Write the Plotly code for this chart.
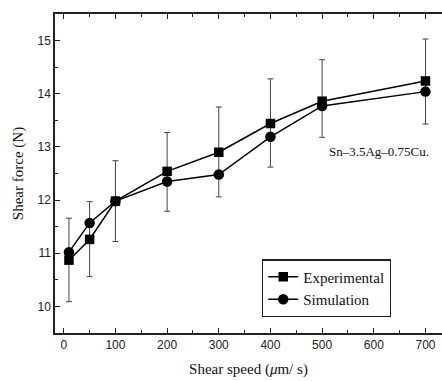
import plotly.graph_objects as go

# Shear speed (um/s)
speed = [10, 50, 100, 200, 300, 400, 500, 700]
# Shear force (N)
experimental = [10.87, 11.26, 11.98, 12.54, 12.90, 13.44, 13.86, 14.24]
simulation = [11.02, 11.57, 11.98, 12.35, 12.48, 13.19, 13.77, 14.04]
err_plus = [0.79, 0.71, 0.76, 0.73, 0.85, 0.84, 0.78, 0.79]
err_minus = [0.78, 0.70, 0.76, 0.75, 0.84, 0.82, 0.68, 0.81]

x_ticks = [0, 100, 200, 300, 400, 500, 600, 700]
y_ticks = [10, 11, 12, 13, 14, 15]

serif = "Liberation Serif"
sans = "Liberation Sans"

fig = go.Figure()

fig.add_trace(go.Scatter(
    x=speed, y=experimental, mode="lines+markers", name="Experimental",
    line=dict(color="black", width=1.5),
    marker=dict(symbol="square", size=9.5, color="black"),
    error_y=dict(type="data", symmetric=False, array=err_plus, arrayminus=err_minus,
                 color="#444444", thickness=1, width=3),
))
fig.add_trace(go.Scatter(
    x=speed, y=simulation, mode="lines+markers", name="Simulation",
    line=dict(color="black", width=1.5),
    marker=dict(symbol="circle", size=10.5, color="black"),
))

axis_common = dict(
    showgrid=False, zeroline=False, showline=True, linecolor="#222", linewidth=1.5,
    ticks="inside", ticklen=5, tickwidth=1.3, tickcolor="#222",
)

fig.update_layout(
    width=442, height=381,
    margin=dict(l=55, r=0, t=14, b=48),
    paper_bgcolor="white", plot_bgcolor="white",
    showlegend=True,
    legend=dict(
        x=0.535, y=0.14, xanchor="left", yanchor="middle",
        bordercolor="#222", borderwidth=1.2, bgcolor="white",
        font=dict(family=serif, size=15, color="#111"),
        tracegroupgap=0,
    ),
    xaxis=dict(
        **axis_common, mirror="ticks", range=[-17, 732], tickvals=x_ticks,
        minor=dict(ticks="inside", ticklen=3, dtick=50, tick0=0, tickcolor="#222"),
        tickfont=dict(family=sans, size=12, color="#222"),
        title=dict(text="Shear speed (<i>μ</i>m/ s)", standoff=12,
                   font=dict(family=serif, size=15, color="#111")),
    ),
    yaxis=dict(
        **axis_common, range=[9.5, 15.5], tickvals=y_ticks,
        minor=dict(ticks="inside", ticklen=3, dtick=0.5, tick0=0, tickcolor="#222"),
        tickfont=dict(family=sans, size=12, color="#222"),
        title=dict(text="Shear force (N)", standoff=10,
                   font=dict(family=serif, size=15, color="#111")),
    ),
    annotations=[dict(
        x=610, y=12.91, xref="x", yref="y", text="Sn–3.5Ag–0.75Cu.",
        showarrow=False, xanchor="center", yanchor="middle",
        font=dict(family=serif, size=13, color="#111"),
    )],
)

fig.write_html("out.html")
